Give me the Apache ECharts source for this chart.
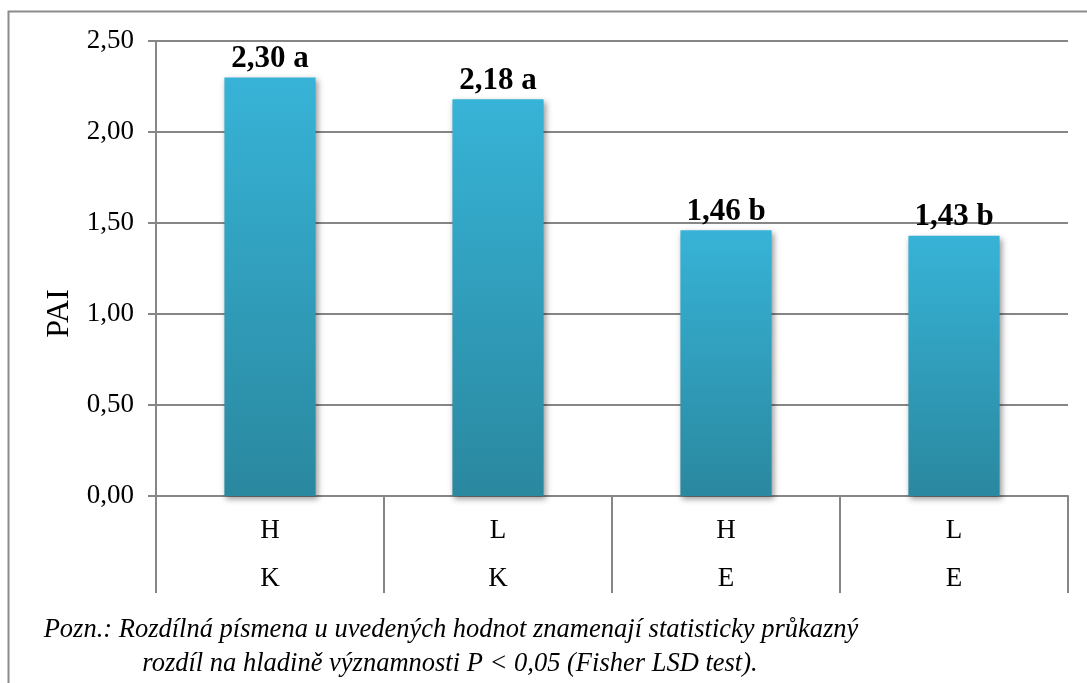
<!DOCTYPE html>
<html>
<head>
<meta charset="utf-8">
<script src="https://cdn.jsdelivr.net/npm/echarts@6/dist/echarts.min.js"></script>
<style>
  html, body { margin: 0; padding: 0; background: #ffffff; }
  #chart { width: 1087px; height: 683px; }
</style>
</head>
<body>
<div id="chart"></div>
<script>
// Treatment labels: level (H/L) over site (K/E)
const levels = ['H', 'L', 'H', 'L'];
const sites = ['K', 'K', 'E', 'E'];
// Mean PAI per treatment and the LSD group letter
const paiValues = [2.30, 2.18, 1.46, 1.43];
const groupLetters = ['a', 'a', 'b', 'b'];
// Value axis ticks
const yTicks = [0, 0.5, 1.0, 1.5, 2.0, 2.5];
const noteLines = [
  'Pozn.: Rozdílná písmena u uvedených hodnot znamenají statisticky průkazný',
  'rozdíl na hladině významnosti P < 0,05 (Fisher LSD test).'
];

const fmt = v => v.toFixed(2).replace('.', ',');
const categories = levels.map((l, i) => l + '\n' + sites[i]);
const serif = '"Liberation Serif", "DejaVu Serif", serif';
const gray = '#868686';

const chart = echarts.init(document.getElementById('chart'), null, { renderer: 'canvas' });

chart.setOption({
  animation: false,
  backgroundColor: '#ffffff',
  grid: { left: 156, right: 19, top: 41, bottom: 187, containLabel: false },
  xAxis: {
    type: 'category',
    data: categories,
    boundaryGap: true,
    axisLine: { show: true, lineStyle: { color: gray, width: 2 } },
    axisTick: { show: true, interval: 0, length: 97, lineStyle: { color: gray, width: 2 } },
    axisLabel: {
      interval: 0,
      margin: 11,
      fontFamily: serif,
      fontSize: 27,
      color: '#000',
      lineHeight: 48
    },
    splitLine: { show: false }
  },
  yAxis: {
    type: 'value',
    min: yTicks[0],
    max: yTicks[yTicks.length - 1],
    interval: yTicks[1] - yTicks[0],
    name: 'PAI',
    nameLocation: 'middle',
    nameGap: 64,
    nameRotate: 90,
    nameTextStyle: { fontFamily: serif, fontSize: 32, color: '#000', padding: [0, 90, 0, 0] },
    axisLine: { show: true, lineStyle: { color: gray, width: 2 } },
    axisTick: { show: true, length: 8, lineStyle: { color: gray, width: 2 } },
    axisLabel: {
      formatter: v => fmt(v),
      margin: 22,
      fontFamily: serif,
      fontSize: 27,
      color: '#000'
    },
    splitLine: { show: true, lineStyle: { color: gray, width: 2 } }
  },
  series: [{
    type: 'bar',
    data: paiValues,
    barWidth: '40%',
    itemStyle: {
      color: new echarts.graphic.LinearGradient(0, 0, 0, 1, [
        { offset: 0, color: '#37b3d7' },
        { offset: 1, color: '#2a889f' }
      ]),
      shadowColor: 'rgba(0,0,0,0.4)',
      shadowBlur: 6,
      shadowOffsetX: 2,
      shadowOffsetY: 3
    },
    label: {
      show: true,
      position: 'top',
      distance: 3,
      formatter: p => fmt(p.value) + ' ' + groupLetters[p.dataIndex],
      fontFamily: serif,
      fontWeight: 'bold',
      fontSize: 31,
      color: '#000'
    }
  }],
  graphic: [
    {
      type: 'polyline',
      silent: true,
      shape: { points: [[8.5, 700], [8.5, 11.5], [1100, 11.5]] },
      style: { stroke: '#8c8c8c', lineWidth: 2, fill: null }
    },
    {
      type: 'text',
      silent: true,
      style: {
        text: noteLines[0],
        x: 451, y: 630,
        textAlign: 'center',
        textVerticalAlign: 'middle',
        font: 'italic 26.5px ' + serif,
        fill: '#000'
      }
    },
    {
      type: 'text',
      silent: true,
      style: {
        text: noteLines[1],
        x: 450, y: 664,
        textAlign: 'center',
        textVerticalAlign: 'middle',
        font: 'italic 26.5px ' + serif,
        fill: '#000'
      }
    }
  ]
});
</script>
</body>
</html>
